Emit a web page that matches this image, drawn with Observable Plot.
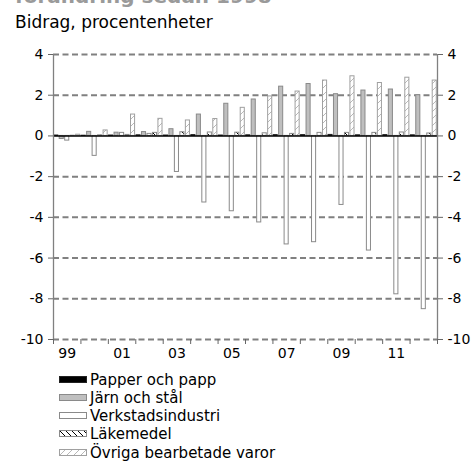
<!DOCTYPE html>
<html><head><meta charset="utf-8">
<script src="https://cdn.jsdelivr.net/npm/d3@7"></script>
<script src="https://cdn.jsdelivr.net/npm/@observablehq/plot@0.6"></script>
<style>
body{margin:0;background:#fff;font-family:"DejaVu Sans",Verdana,sans-serif;}
#wrap{position:relative;width:474px;height:462px;overflow:hidden;}
#header{position:relative;height:40px;}
#title{position:absolute;left:15px;top:-14px;font-size:20px;line-height:20px;font-weight:bold;color:#9a9a9a;white-space:nowrap;}
#subtitle{position:absolute;left:15px;top:14px;font-size:17px;line-height:17px;color:#000;white-space:nowrap;}
#legend{position:absolute;left:59px;top:370.5px;font-size:15px;line-height:18.3px;color:#000;}
#legend .row{white-space:nowrap;height:18.3px;}
#legend svg{vertical-align:2px;margin-right:3px;}
#defs{position:absolute;width:0;height:0;}
</style></head>
<body>
<svg id="defs" width="0" height="0">
  <defs>
    <pattern id="hatchO" patternUnits="userSpaceOnUse" width="7" height="7">
      <rect width="7" height="7" fill="#fff"/>
      <path d="M0,7 L7,0 M-1,1 L1,-1 M6,8 L8,6" stroke="#b8b8b8" stroke-width="1"/>
    </pattern>
    <pattern id="hatchL" patternUnits="userSpaceOnUse" width="6" height="6">
      <rect width="6" height="6" fill="#fff"/>
      <path d="M0,0 L6,6 M-1,5 L1,7 M5,-1 L7,1" stroke="#000" stroke-width="1"/>
    </pattern>
  </defs>
</svg>
<div id="wrap">
  <div id="header">
    <div id="title">förändring sedan 1998</div>
    <div id="subtitle">Bidrag, procentenheter</div>
  </div>
  <div id="chart"></div>
  <div id="legend"></div>
</div>
<script>
const years = [1999, 2000, 2001, 2002, 2003, 2004, 2005, 2006, 2007, 2008, 2009, 2010, 2011, 2012];
const papper    = [0.02, 0.01, 0.02, 0.03, 0.02, 0.04, 0.02, 0.03, 0.04, 0.04, 0.05, 0.03, 0.04, 0.03];
const jarn      = [-0.15, 0.2, 0.16, 0.19, 0.33, 1.05, 1.58, 1.79, 2.42, 2.55, 2.05, 2.23, 2.28, 2.0];
const verkstad  = [-0.23, -0.98, 0.15, 0.1, -1.77, -3.27, -3.7, -4.25, -5.33, -5.22, -3.39, -5.63, -7.78, -8.51];
const lakemedel = [0.01, 0.03, 0.05, 0.15, 0.18, 0.17, 0.16, 0.13, 0.1, 0.15, 0.15, 0.15, 0.17, 0.12];
const ovriga    = [0.06, 0.27, 1.05, 0.84, 0.76, 0.83, 1.38, 1.94, 2.18, 2.72, 2.93, 2.6, 2.86, 2.72];
const seriesNames = ["Papper och papp", "Järn och stål", "Verkstadsindustri", "Läkemedel", "Övriga bearbetade varor"];
const yTicks = [-10, -8, -6, -4, -2, 0, 2, 4];
const labelYears = [1999, 2001, 2003, 2005, 2007, 2009, 2011];

const seriesValues = [papper, jarn, verkstad, lakemedel, ovriga];
const styles = [
  {fill: "#000", stroke: "#222"},
  {fill: "#bfbfbf", stroke: "#8a8a8a"},
  {fill: "#fff", stroke: "#8a8a8a"},
  {fill: "url(#hatchL)", stroke: "#8a8a8a"},
  {fill: "url(#hatchO)", stroke: "#a0a0a0"}
];
const nS = seriesNames.length;
const tables = seriesValues.map((vals, s) => years.map((yr, j) => ({year: yr, slot: s, value: vals[j]})));
const boundaries = [...years.map(y => y - 0.5), years[years.length - 1] + 0.5];

const chart = Plot.plot({
  width: 474, height: 330,
  marginLeft: 53, marginRight: 37, marginTop: 14, marginBottom: 31,
  x: {domain: [years[0] - 0.5, years[years.length - 1] + 0.5], axis: null},
  y: {domain: [-10, 4], axis: null},
  style: {fontFamily: "'DejaVu Sans', Verdana, sans-serif", fontSize: "14px", color: "#000", background: "transparent", overflow: "visible"},
  marks: [
    Plot.ruleY(yTicks.filter(d => d !== 0), {stroke: "#808080", strokeWidth: 2, strokeDasharray: "6,3.5"}),
    ...tables.map((t, s) => Plot.rect(t, {
      x1: d => d.year - 0.5 + d.slot / nS,
      x2: d => d.year - 0.5 + (d.slot + 1) / nS,
      y1: () => 0, y2: "value",
      fill: styles[s].fill, stroke: styles[s].stroke, strokeWidth: 1,
      insetLeft: 0.7, insetRight: 0.7
    })),
    Plot.ruleY([0], {stroke: "#000", strokeWidth: 1.6}),
    Plot.ruleX([boundaries[0], boundaries[boundaries.length - 1]], {y1: -10, y2: 4, stroke: "#808080", strokeWidth: 1.3}),
    Plot.axisY({anchor: "left", ticks: yTicks, tickFormat: d => String(d), tickSize: 5, tickPadding: 5, stroke: "#666", label: null}),
    Plot.axisY({anchor: "right", ticks: yTicks, tickFormat: d => String(d), tickSize: 5, tickPadding: 5, stroke: "#666", label: null}),
    Plot.axisX({ticks: boundaries, tickFormat: () => "", tickSize: 5, stroke: "#666", label: null}),
    Plot.axisX({ticks: labelYears, tickFormat: d => String(d).slice(2), tickSize: 0, tickPadding: 9, label: null})
  ]
});
document.getElementById("chart").appendChild(chart);

const legend = document.getElementById("legend");
const swatchSvg = (st) => `<svg width="28" height="7"><rect x="0.5" y="0.5" width="27" height="6" fill="${st.fill}" stroke="${st.stroke}" stroke-width="1"/></svg>`;
seriesNames.forEach((name, i) => {
  const row = document.createElement("div");
  row.className = "row";
  row.innerHTML = swatchSvg(styles[i]) + `<span>${name}</span>`;
  legend.appendChild(row);
});
</script>
</body></html>
